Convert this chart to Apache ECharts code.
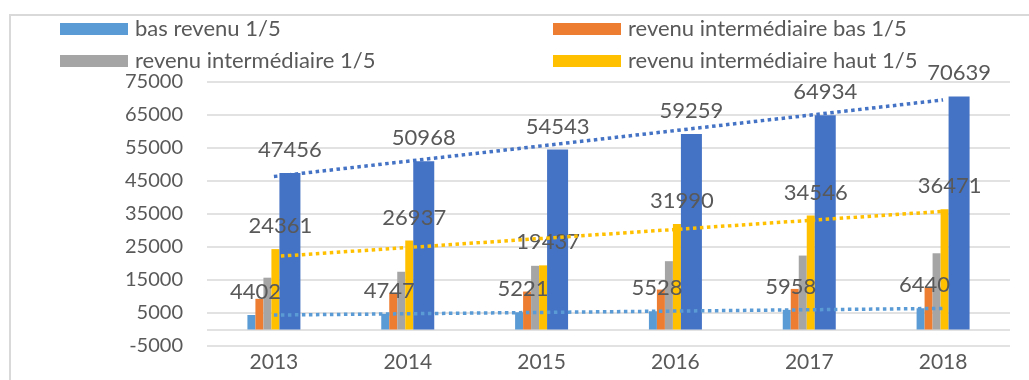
<!DOCTYPE html>
<html lang="fr">
<head>
<meta charset="utf-8">
<title>Revenu par quintile 2013-2018</title>
<script src="https://cdn.jsdelivr.net/npm/echarts@6.0.0/dist/echarts.min.js"></script>
<style>
  html, body { margin: 0; padding: 0; background: #ffffff; overflow: hidden; }
  #frame {
    position: absolute; left: 9px; top: 14px; width: 1200px; height: 600px;
    border: 2px solid #d9d9d9; box-sizing: border-box;
  }
  #chart { position: absolute; left: 0; top: 0; width: 1029px; height: 380px; }
</style>
</head>
<body>
<div id="frame"></div>
<div id="chart"></div>
<script>
// Years on the category axis
const years = ['2013', '2014', '2015', '2016', '2017', '2018'];

// Income per quintile
const basRevenu = [4402, 4747, 5221, 5528, 5958, 6440];
const intermediaireBas = [9300, 11100, 11500, 12100, 12300, 12850];
const intermediaire = [15700, 17500, 19300, 20700, 22400, 23100];
const intermediaireHaut = [24361, 26937, 19437, 31990, 34546, 36471];
const hautRevenu = [47456, 50968, 54543, 59259, 64934, 70639];

// Value-axis tick labels (the category axis sits on 0)
const yTickLabels = [-5000, 5000, 15000, 25000, 35000, 45000, 55000, 65000, 75000];
const yGridLines = [-5000, 0, 5000, 15000, 25000, 35000, 45000, 55000, 65000, 75000];

const FONT = 'Lato, "Noto Sans", sans-serif';
const TEXT = '#595959';

// Least-squares linear trend of a series, evaluated at each category
function linearTrend(values) {
  const n = values.length;
  let sx = 0, sy = 0, sxx = 0, sxy = 0;
  values.forEach((v, i) => { sx += i; sy += v; sxx += i * i; sxy += i * v; });
  const slope = (n * sxy - sx * sy) / (n * sxx - sx * sx);
  const intercept = (sy - slope * sx) / n;
  return values.map((_, i) => Math.round(intercept + slope * i));
}

function bar(name, data, color, width, withLabel, labelOffset) {
  return {
    name, type: 'bar', data, barWidth: width, barGap: '0%',
    itemStyle: { color },
    label: withLabel ? {
      show: true, position: 'top', distance: 12, offset: labelOffset || [0, 0],
      color: TEXT, fontFamily: FONT, fontSize: 22
    } : { show: false },
    z: 2
  };
}

function trend(name, data, color) {
  return {
    name, type: 'line', data: linearTrend(data), symbol: 'none', silent: true,
    lineStyle: { color, width: 3.5, type: [3.5, 3.5] },
    z: 4
  };
}

const chart = echarts.init(document.getElementById('chart'), null, { renderer: 'canvas' });

const legendBase = {
  orient: 'vertical', icon: 'rect', itemWidth: 68, itemHeight: 12, itemGap: 10,
  padding: 0, selectedMode: false,
  textStyle: { color: TEXT, fontFamily: FONT, fontSize: 22, padding: [0, 0, 0, 2] }
};

chart.setOption({
  animation: false,
  backgroundColor: 'transparent',
  legend: [
    Object.assign({}, legendBase, { left: 60, top: 18, data: ['bas revenu 1/5', 'revenu intermédiaire 1/5'] }),
    Object.assign({}, legendBase, { left: 553, top: 18, data: ['revenu intermédiaire bas 1/5', 'revenu intermédiaire haut 1/5'] })
  ],
  grid: { left: 207, right: 19, top: 82, bottom: 34, containLabel: false },
  xAxis: {
    type: 'category', data: years,
    axisLine: { show: false, onZero: false },
    axisTick: { show: false },
    axisLabel: { color: TEXT, fontFamily: FONT, fontSize: 21, margin: 6 },
    splitLine: { show: false }
  },
  yAxis: {
    type: 'value', min: -5000, max: 75000,
    axisLine: { show: false },
    axisTick: { show: false, customValues: yGridLines },
    axisLabel: {
      customValues: yTickLabels, formatter: (v) => String(v),
      color: TEXT, fontFamily: FONT, fontSize: 20, margin: 24
    },
    splitLine: { show: true, lineStyle: { color: '#d9d9d9', width: 1.5 } }
  },
  series: [
    bar('bas revenu 1/5', basRevenu, '#5B9BD5', 8, true, [4, 0]),
    bar('revenu intermédiaire bas 1/5', intermediaireBas, '#ED7D31', 8, false),
    bar('revenu intermédiaire 1/5', intermediaire, '#A5A5A5', 8, false),
    bar('revenu intermédiaire haut 1/5', intermediaireHaut, '#FFC000', 8, true, [5, 0]),
    bar('haut revenu 1/5', hautRevenu, '#4472C4', 21, true),
    trend('Linéaire (bas revenu 1/5)', basRevenu, '#5B9BD5'),
    trend('Linéaire (revenu intermédiaire haut 1/5)', intermediaireHaut, '#FFC000'),
    trend('Linéaire (haut revenu 1/5)', hautRevenu, '#4472C4')
  ]
});
</script>
</body>
</html>
